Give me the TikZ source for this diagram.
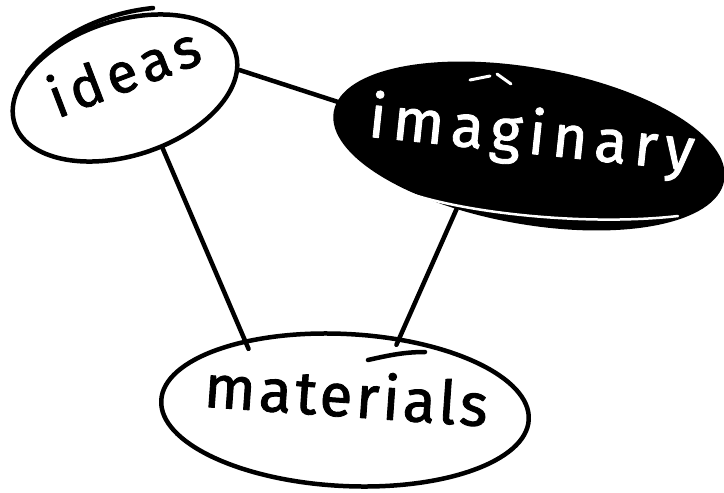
\documentclass[tikz,border=0pt]{standalone}
\usepackage{fontspec}
\setmainfont{Fira Sans}
\usetikzlibrary{shapes.geometric}

\tikzset{blob/.style={ellipse, draw, inner sep=0pt},
         word/.style={inner sep=0pt, text height=1ex, text depth=0pt}}

\begin{document}
\begin{tikzpicture}[x=1pt, y=-1pt, line width=4.5pt, line cap=round, line join=round]
  \useasboundingbox (0,0) rectangle (724,493);
  \node[blob, minimum width=232, minimum height=135, rotate=18] (ideas) at (125,88) {};
  \node[word, rotate=21, font=\fontsize{56}{56}\selectfont\addfontfeatures{LetterSpace=10,FakeBold=1.5}] (ideastxt) at (130,88) {ideas};
  \node[blob, fill=black, minimum width=392, minimum height=152, rotate=-10] (imag) at (529,146) {};
  \node[word, white, rotate=-6, font=\fontsize{60}{60}\selectfont\addfontfeatures{LetterSpace=12,FakeBold=1.5}] (imagtxt) at (530,151) {imaginary};
  \node[blob, minimum width=368, minimum height=152, rotate=-3] (mat) at (345,410) {};
  \node[word, rotate=-4, font=\fontsize{60}{60}\selectfont\addfontfeatures{LetterSpace=6,FakeBold=1.5}] (mattxt) at (345,414) {materials};

  \draw (ideas.-9) -- (imag.177);
  \draw[shorten >=-10pt] (ideas.-76) -- (mat.148);
  \draw[shorten >=-8pt] (imag.231) -- (mat.56);

  \draw (27,73) .. controls (50,42) and (95,14) .. (153,8);
  \draw[white, line width=2.5pt] (408,193) .. controls (470,214) and (590,226) .. (678,216);
  \draw[white, line width=3pt] (470,80) -- (490,76) (497,74) -- (511,84);
  \draw (368,360) .. controls (390,355) and (405,352) .. (425,352);
\end{tikzpicture}
\end{document}
